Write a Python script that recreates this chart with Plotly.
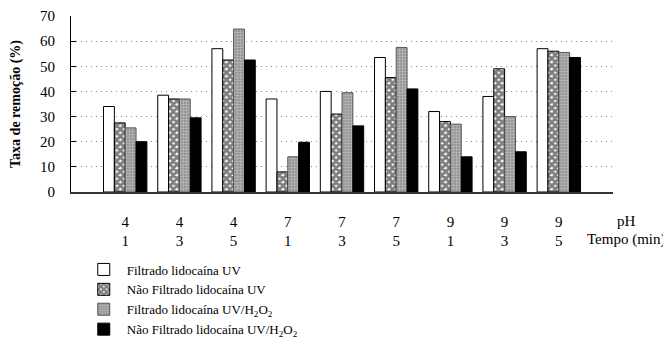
import plotly.graph_objects as go

ph = ["4", "4", "4", "7", "7", "7", "9", "9", "9"]
tempo = ["1", "3", "5", "1", "3", "5", "1", "3", "5"]
positions = [0, 1, 2, 3, 4, 5, 6, 7, 8]

filtrado_uv = [34, 38.5, 57, 37, 40, 53.5, 32, 38, 57]
nao_filtrado_uv = [27.5, 37, 52.5, 8, 31, 45.5, 28, 49, 56]
filtrado_uvh2o2 = [25.5, 37, 64.8, 14, 39.5, 57.5, 27, 30, 55.5]
nao_filtrado_uvh2o2 = [20, 29.5, 52.5, 19.8, 26.3, 41, 14, 16, 53.5]

names = [
    "Filtrado lidocaína UV",
    "Não Filtrado lidocaína UV",
    "Filtrado lidocaína UV/H<sub>2</sub>O<sub>2</sub>",
    "Não Filtrado lidocaína UV/H<sub>2</sub>O<sub>2</sub>",
]

FONT = "Liberation Serif"

fig = go.Figure()
fig.add_trace(go.Bar(
    x=positions, y=filtrado_uv, name=names[0],
    marker=dict(color="white", line=dict(color="black", width=1)),
))
fig.add_trace(go.Bar(
    x=positions, y=nao_filtrado_uv, name=names[1],
    marker=dict(color="white", line=dict(color="black", width=1),
                pattern=dict(shape="x", size=5, solidity=0.8,
                             fgcolor="black", bgcolor="white")),
))
fig.add_trace(go.Bar(
    x=positions, y=filtrado_uvh2o2, name=names[2],
    marker=dict(color="#9a9a9a", line=dict(color="#555555", width=1),
                pattern=dict(shape=".", size=3, solidity=0.5,
                             fgcolor="#e6e6e6", bgcolor="#8c8c8c")),
))
fig.add_trace(go.Bar(
    x=positions, y=nao_filtrado_uvh2o2, name=names[3],
    marker=dict(color="black", line=dict(color="black", width=1)),
))

ticktext = [f"{p}<br>{t}" for p, t in zip(ph, tempo)]

fig.update_layout(
    width=663, height=336,
    margin=dict(l=63, r=58, t=8, b=152, autoexpand=False),
    paper_bgcolor="white", plot_bgcolor="white",
    barmode="group", bargap=0.2, bargroupgap=0,
    font=dict(family=FONT, size=15, color="black"),
    showlegend=True,
    legend=dict(
        orientation="v", x=0.018, y=-0.355, xanchor="left", yanchor="top",
        font=dict(family=FONT, size=13, color="black"),
        itemwidth=36, bgcolor="rgba(0,0,0,0)", traceorder="normal",
    ),
    xaxis=dict(
        range=[-1, 9], tickmode="array", tickvals=positions, ticktext=ticktext,
        showgrid=False, zeroline=False, showline=True, linecolor="#333333",
        linewidth=1.5, ticks="", ticklabelstandoff=15,
        tickfont=dict(family=FONT, size=15),
        automargin=False,
    ),
    yaxis=dict(
        range=[0, 70], dtick=10, tick0=0,
        showgrid=True, gridcolor="#8a8a8a", griddash="1px,4px", gridwidth=1,
        zeroline=False, showline=True, linecolor="black", linewidth=1,
        ticks="inside", ticklen=5, tickcolor="black", ticklabelstandoff=12,
        tickfont=dict(family=FONT, size=15),
        title=dict(text="<b>Taxa de remoção (%)</b>", standoff=16,
                   font=dict(family=FONT, size=14)),
        automargin=False,
    ),
    annotations=[
        dict(text="pH", xref="paper", yref="paper", x=1.024, y=-0.165,
             xanchor="center", yanchor="middle", showarrow=False,
             font=dict(family=FONT, size=15)),
        dict(text="Tempo (min)", xref="paper", yref="paper", x=1.101, y=-0.27,
             xanchor="right", yanchor="middle", showarrow=False,
             font=dict(family=FONT, size=15)),
    ],
)

fig.write_html("out.html")
